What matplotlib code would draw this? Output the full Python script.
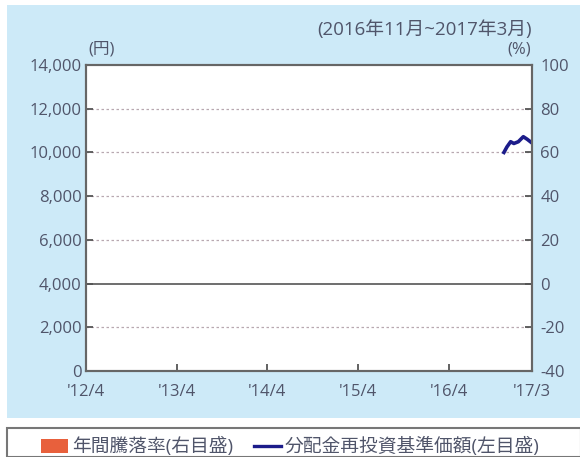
import pandas as pd
import matplotlib.pyplot as plt
from matplotlib.patches import Rectangle

plt.rcParams['font.family'] = ['Open Sans', 'Noto Sans CJK JP', 'DejaVu Sans']
plt.rcParams['axes.unicode_minus'] = False

# NAV (dividend reinvested)
nav_dates = pd.to_datetime(["2016-11-08", "2016-11-20", "2016-12-05", "2016-12-18",
                            "2017-01-05", "2017-01-25", "2017-02-10", "2017-02-28"])
nav_values = [10000, 10250, 10490, 10410, 10490, 10720, 10600, 10440]

tick_dates = pd.to_datetime(["2012-04-01", "2013-04-01", "2014-04-01",
                             "2015-04-01", "2016-04-01", "2017-03-01"])
tick_labels = ["'12/4", "'13/4", "'14/4", "'15/4", "'16/4", "'17/3"]
left_ticks = [0, 2000, 4000, 6000, 8000, 10000, 12000, 14000]
right_ticks = [-40, -20, 0, 20, 40, 60, 80, 100]

txt = "#50556a"
W, H = 580, 457
fig = plt.figure(figsize=(5.8, 4.57), dpi=100)
fig.patch.set_facecolor("white")

# light blue panel and legend box
fig.add_artist(Rectangle((7 / W, 1 - 418 / H), (W - 7) / W, (418 - 5) / H,
                         transform=fig.transFigure, facecolor="#cdeaf8",
                         edgecolor="none", zorder=0))
fig.add_artist(Rectangle((7 / W, 0), (W - 6) / W, (457 - 428) / H,
                         transform=fig.transFigure, facecolor="white",
                         edgecolor="#777777", linewidth=1.5, zorder=0))

ax = fig.add_axes([86 / W, 1 - 371 / H, (532 - 86) / W, (371 - 65) / H])
ax.set_facecolor("white")
ax.set_xlim(pd.Timestamp("2012-04-01"), pd.Timestamp("2017-03-01"))
ax.set_ylim(0, 14000)

for v in left_ticks[1:-1]:
    if v == 4000:
        ax.axhline(v, color="#555555", linewidth=1.2, zorder=1)
    else:
        ax.axhline(v, color="#b8a8b0", linewidth=0.9, linestyle=(0, (2, 2)), zorder=1)

ax.plot(nav_dates, nav_values, color="#1c1c8a", linewidth=2.6, zorder=3)

ax.set_xticks(tick_dates)
ax.set_xticklabels(tick_labels)
ax.set_yticks(left_ticks)
ax.set_yticklabels([f"{v:,}" for v in left_ticks])
ax.tick_params(axis="both", direction="in", length=5, width=1.3, color="#555555",
               labelsize=12, labelcolor=txt)
ax.tick_params(axis="x", pad=9)
ax.tick_params(axis="y", pad=3)

ax2 = ax.twinx()
ax2.set_ylim(-40, 100)
ax2.set_yticks(right_ticks)
ax2.tick_params(axis="y", direction="in", length=5, width=1.3, color="#555555",
                labelsize=12, labelcolor=txt, pad=6)

for a in (ax, ax2):
    for s in a.spines.values():
        s.set_color("#666666")
        s.set_linewidth(1.5)

fig.text(532 / W, 1 - 30 / H, "(2016年11月~2017年3月)", ha="right", va="center",
         fontsize=13.5, color=txt)
fig.text(88 / W, 1 - 50 / H, "(円)", ha="left", va="center", fontsize=12, color=txt)
fig.text(531 / W, 1 - 50 / H, "(%)", ha="right", va="center", fontsize=12, color=txt)

# legend
ly = 1 - 446 / H
fig.add_artist(Rectangle((41 / W, 1 - 453 / H), 27 / W, 14 / H,
                         transform=fig.transFigure, facecolor="#e8603c",
                         edgecolor="none"))
fig.text(72 / W, ly, "年間騰落率(右目盛)", ha="left", va="center", fontsize=13.5, color=txt)
fig.add_artist(plt.Line2D([254 / W, 281 / W], [ly, ly], transform=fig.transFigure,
                          color="#1c1c8a", linewidth=2.4))
fig.text(285 / W, ly, "分配金再投資基準価額(左目盛)", ha="left", va="center",
         fontsize=13.5, color=txt)

fig.savefig("out.png", dpi=100)
